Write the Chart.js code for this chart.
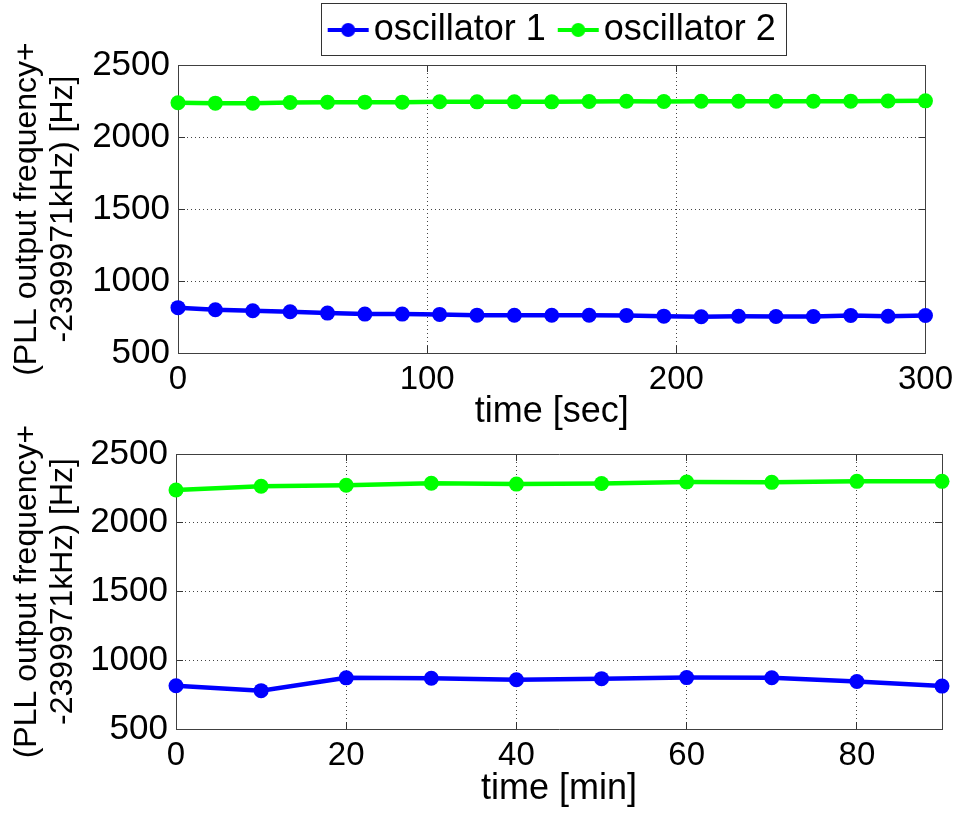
<!DOCTYPE html>
<html>
<head>
<meta charset="utf-8">
<script src="https://cdn.jsdelivr.net/npm/chart.js@4.4.1/dist/chart.umd.min.js"></script>
<style>
html, body { margin: 0; padding: 0; background: #fff; }
canvas { position: absolute; left: 0; }
#topChart { top: 0; }
#bottomChart { top: 400px; }
</style>
</head>
<body>
<canvas id="topChart" width="967" height="432"></canvas>
<canvas id="bottomChart" width="967" height="413"></canvas>
<script>
// top panel: seconds
const secTimes = [0, 15, 30, 45, 60, 75, 90, 105, 120, 135, 150, 165, 180, 195, 210, 225, 240, 255, 270, 285, 300];
const secOsc1 = [815, 800, 793, 786, 777, 770, 770, 768, 763, 762, 762, 762, 761, 756, 752, 755, 753, 753, 760, 755, 760];
const secOsc2 = [2238, 2235, 2234, 2240, 2241, 2242, 2242, 2245, 2244, 2244, 2244, 2247, 2248, 2247, 2248, 2248, 2249, 2249, 2249, 2250, 2251];

// bottom panel: minutes
const minTimes = [0, 10, 20, 30, 40, 50, 60, 70, 80, 90];
const minOsc1 = [815, 779, 872, 869, 858, 866, 874, 873, 845, 812];
const minOsc2 = [2238, 2265, 2273, 2287, 2281, 2285, 2296, 2294, 2301, 2301];

const seriesNames = ['oscillator 1', 'oscillator 2'];
const seriesColors = ['#0000ff', '#00ff00'];
const yTitle = ['(PLL output frequency+', '-2399971kHz) [Hz]'];

const FONT = "'Liberation Sans', Arial, sans-serif";

const toPoints = (xs, ys) => xs.map((x, i) => ({ x: x, y: ys[i] }));

// little line + dot picture for the legend
const legendMarker = (color) => {
    const c = document.createElement('canvas');
    c.width = 82;
    c.height = 18;
    const g = c.getContext('2d');
    g.strokeStyle = color;
    g.lineWidth = 4;
    g.beginPath();
    g.moveTo(27, 9);
    g.lineTo(68, 9);
    g.stroke();
    g.fillStyle = color;
    g.beginPath();
    g.arc(47.5, 9, 7, 0, Math.PI * 2);
    g.fill();
    return c;
}

const makeDatasets = (xs, ys1, ys2) => [ys1, ys2].map((ys, i) => ({
    label: seriesNames[i],
    data: toPoints(xs, ys),
    borderColor: seriesColors[i],
    backgroundColor: seriesColors[i],
    borderWidth: 4.5,
    pointRadius: 7.5,
    pointBorderWidth: 0,
    clip: false,
    tension: 0
}));

const gridOpts = { color: '#444', lineWidth: 1, tickLength: -7, tickColor: '#333' };
const borderOpts = { color: '#404040', width: 1, dash: [1, 3] };
const plain = v => String(v);

const makeScales = (o) => ({
    x: {
        type: 'linear', position: 'bottom', min: 0, max: o.xMax,
        ticks: { stepSize: o.xStep, includeBounds: false, autoSkip: false, maxRotation: 0, padding: 14, color: '#000', font: { family: FONT, size: 33 }, callback: plain },
        grid: gridOpts,
        border: borderOpts,
        title: { display: true, text: o.xTitle, color: '#000', font: { family: FONT, size: 36, lineHeight: 1.1 }, padding: { top: 0, bottom: o.titlePad } },
        afterFit: s => { s.height = o.xHeight; }
    },
    y: {
        type: 'linear', position: 'left', min: 500, max: 2500,
        ticks: { stepSize: 500, padding: 15, color: '#000', font: { family: FONT, size: 35 }, callback: plain },
        grid: gridOpts,
        border: borderOpts,
        title: { display: true, text: yTitle, color: '#000', font: { family: FONT, size: 32, lineHeight: 1.1 }, padding: { top: 10, bottom: 0 } },
        afterFit: s => { s.width = o.left; s.paddingTop = 0; s.paddingBottom = 0; }
    },
    // top and right edges of the box, with inward ticks
    xTop: {
        type: 'linear', position: 'top', min: 0, max: o.xMax,
        ticks: { display: false, stepSize: o.xStep, includeBounds: false },
        grid: { drawOnChartArea: false, tickLength: -7, tickColor: '#333' },
        border: { color: '#404040' },
        afterFit: s => { s.height = o.topGap; }
    },
    yRight: {
        type: 'linear', position: 'right', min: 500, max: 2500,
        ticks: { display: false, stepSize: 500 },
        grid: { drawOnChartArea: false, tickLength: -7, tickColor: '#333' },
        border: { color: '#404040' },
        afterFit: s => { s.width = o.rightGap; }
    }
});

const legendFrame = {
    id: 'legendFrame',
    afterDraw(chart) {
        const lg = chart.legend;
        if (!lg || !lg.options.display || !lg.legendHitBoxes.length) return;
        const boxes = lg.legendHitBoxes;
        const first = boxes[0];
        const last = boxes[boxes.length - 1];
        const ctx = chart.ctx;
        ctx.save();
        ctx.strokeStyle = '#333';
        ctx.lineWidth = 1;
        ctx.strokeRect(Math.round(first.left) - 6.5, Math.round(first.top) - 8.5,
            Math.round(last.left + last.width - first.left) + 17, first.height + 16);
        ctx.restore();
    }
};

const topChart = new Chart(document.getElementById('topChart'), {
    type: 'line',
    data: { datasets: makeDatasets(secTimes, secOsc1, secOsc2) },
    options: {
        responsive: false,
        animation: false,
        scales: makeScales({ xMax: 300, xStep: 100, xTitle: 'time [sec]', titlePad: 0, xHeight: 79, left: 178, topGap: 7, rightGap: 34 }),
        plugins: {
            tooltip: { enabled: false },
            legend: {
                display: true,
                position: 'top',
                fullSize: false,
                labels: {
                    usePointStyle: true,
                    pointStyleWidth: 28,
                    padding: 12,
                    color: '#000',
                    font: { family: FONT, size: 36 },
                    generateLabels: chart => Chart.defaults.plugins.legend.labels.generateLabels(chart)
                        .map((item, i) => Object.assign(item, { pointStyle: legendMarker(seriesColors[i]) }))
                }
            }
        }
    },
    plugins: [legendFrame]
});

const bottomChart = new Chart(document.getElementById('bottomChart'), {
    type: 'line',
    data: { datasets: makeDatasets(minTimes, minOsc1, minOsc2) },
    options: {
        responsive: false,
        animation: false,
        scales: makeScales({ xMax: 90, xStep: 20, xTitle: 'time [min]', titlePad: 4, xHeight: 84, left: 176, topGap: 54, rightGap: 25 }),
        plugins: {
            tooltip: { enabled: false },
            legend: { display: false }
        }
    }
});
</script>
</body>
</html>
